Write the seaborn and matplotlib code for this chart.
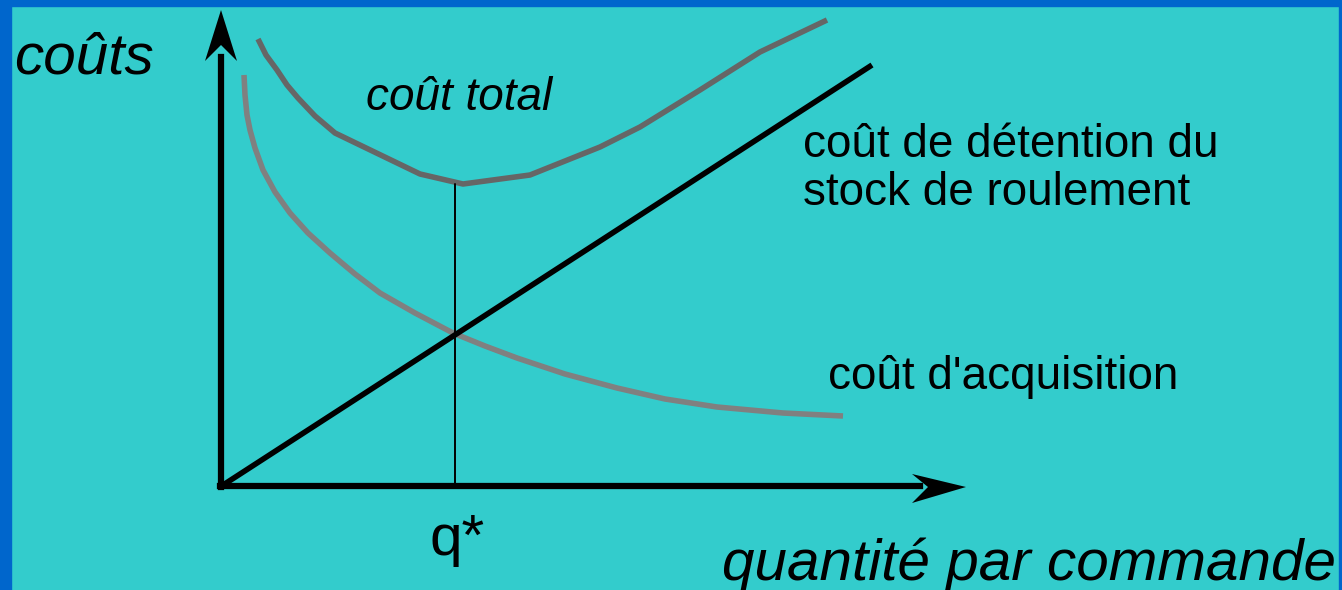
import matplotlib
matplotlib.use("Agg")
import matplotlib.pyplot as plt
import seaborn as sns
import pandas as pd
from matplotlib.patches import Polygon, Rectangle

sns.set_theme(style="white")
plt.rcParams['font.family'] = ['Liberation Sans', 'DejaVu Sans']
plt.rcParams['text.color'] = 'black'

# ---- data (chart units: origin at the axes corner) ----
total_q = [38, 46, 57, 67, 78, 95, 115, 200, 243, 310, 380, 420, 480, 540, 607]
total_cost = [448, 432, 417, 402, 389, 371, 354, 313, 303, 312, 340, 360, 397, 435, 467]

acq_q = [24, 25, 27, 30, 35, 43, 55, 70, 88, 110, 135, 160, 195, 233, 265,
         297, 345, 397, 445, 497, 563, 623]
acq_cost = [412, 392, 372, 357, 339, 317, 295, 274, 254, 234, 213, 194, 174, 154, 141,
            129, 113, 99, 88, 80, 74, 71]

hold_q = [0, 652]
hold_cost = [0, 422]

q_star = 235
q_star_cost = 303

labels = {
    "y": "coûts",
    "x": "quantité par commande",
    "total": "coût total",
    "hold": ["coût de détention du", "stock de roulement"],
    "acq": "coût d'acquisition",
    "qstar": "q*",
}

BG = "#33CCCC"
BORDER = "#0066CC"

fig = plt.figure(figsize=(13.42, 5.90), dpi=100)
fig.patch.set_facecolor(BG)
ax = fig.add_axes([0, 0, 1, 1])
ax.set_facecolor(BG)
ax.set_xlim(-220, 1122)
ax.set_ylim(-103, 487)
ax.axis("off")

# border (blue frame on left, top, right)
ax.add_patch(Rectangle((0, 0), 11 / 1342, 1, transform=ax.transAxes, color=BORDER, zorder=0))
ax.add_patch(Rectangle((0, 1 - 6 / 590), 1, 6 / 590, transform=ax.transAxes, color=BORDER, zorder=0))
ax.add_patch(Rectangle((1 - 3 / 1342, 0), 3 / 1342, 1, transform=ax.transAxes, color=BORDER, zorder=0))

df_total = pd.DataFrame({"q": total_q, "cost": total_cost})
df_acq = pd.DataFrame({"q": acq_q, "cost": acq_cost})
df_hold = pd.DataFrame({"q": hold_q, "cost": hold_cost})

sns.lineplot(data=df_acq, x="q", y="cost", sort=False, estimator=None, ax=ax,
             color="#808080", linewidth=4.0, solid_capstyle="butt", solid_joinstyle="round", zorder=2)
sns.lineplot(data=df_total, x="q", y="cost", sort=False, estimator=None, ax=ax,
             color="#666666", linewidth=4.0, solid_capstyle="butt", solid_joinstyle="round", zorder=2)
sns.lineplot(data=df_hold, x="q", y="cost", sort=False, estimator=None, ax=ax,
             color="black", linewidth=4.0, solid_capstyle="butt", zorder=3)
ax.plot([q_star, q_star], [0, q_star_cost], color="black", linewidth=1.4, zorder=3)

# axes with notched arrowheads
ax.plot([1, 1], [0, 430], color="black", linewidth=4.5, solid_capstyle="projecting", zorder=4)
ax.add_patch(Polygon([(1, 477), (-15, 426), (1, 442), (17, 426)], closed=True,
                     color="black", zorder=4, linewidth=0))
ax.plot([0, 700], [1, 1], color="black", linewidth=4.5, solid_capstyle="projecting", zorder=4)
ax.add_patch(Polygon([(746, 0), (692, 13), (708, 0), (692, -16)], closed=True,
                     color="black", zorder=4, linewidth=0))

# texts
ax.text(-206, 414, labels["y"], fontsize=42, style="italic", ha="left", va="baseline", color="black")
ax.text(502, -93, labels["x"], fontsize=42, style="italic", ha="left", va="baseline", color="black")
ax.text(146, 377, labels["total"], fontsize=33, style="italic", ha="left", va="baseline", color="black")
ax.text(583, 330, labels["hold"][0], fontsize=33, ha="left", va="baseline", color="black")
ax.text(583, 282, labels["hold"][1], fontsize=33, ha="left", va="baseline", color="black")
ax.text(608, 98, labels["acq"], fontsize=33, ha="left", va="baseline", color="black")
ax.text(210, -68, labels["qstar"], fontsize=42, ha="left", va="baseline", color="black")

fig.savefig("out.png", dpi=100, facecolor=BG)
